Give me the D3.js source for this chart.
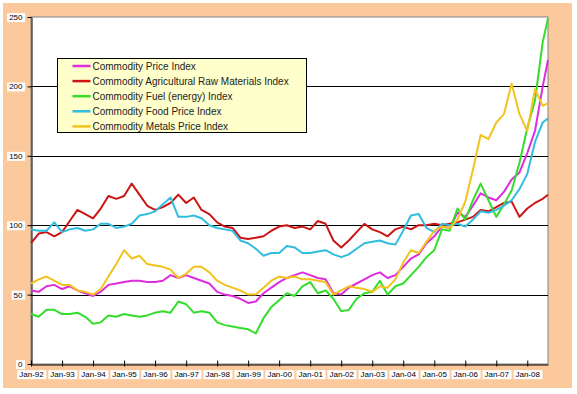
<!DOCTYPE html>
<html>
<head>
<meta charset="utf-8">
<script src="https://cdn.jsdelivr.net/npm/d3@7"></script>
<style>
    body { margin: 0; background: #fff; }
    svg { display: block; font-family: Arial, "Liberation Sans", sans-serif; }
</style>
</head>
<body>
<div id="chart"></div>
<script>
// quarterly readings, Jan-92 .. Sep-08
const months = [
    "1992-01", "1992-04", "1992-07", "1992-10", "1993-01", "1993-04", "1993-07", "1993-10",
    "1994-01", "1994-04", "1994-07", "1994-10", "1995-01", "1995-04", "1995-07", "1995-10",
    "1996-01", "1996-04", "1996-07", "1996-10", "1997-01", "1997-04", "1997-07", "1997-10",
    "1998-01", "1998-04", "1998-07", "1998-10", "1999-01", "1999-04", "1999-07", "1999-10",
    "2000-01", "2000-04", "2000-07", "2000-10", "2001-01", "2001-04", "2001-07", "2001-10",
    "2002-01", "2002-04", "2002-07", "2002-10", "2003-01", "2003-04", "2003-07", "2003-10",
    "2004-01", "2004-04", "2004-07", "2004-10", "2005-01", "2005-04", "2005-07", "2005-10",
    "2006-01", "2006-04", "2006-07", "2006-10", "2007-01", "2007-04", "2007-07", "2007-10",
    "2008-01", "2008-04", "2008-07", "2008-09"
];

const priceIndex = [
    53, 52, 56, 57, 54, 56, 53, 51, 49, 52, 57, 58, 59, 60, 60, 59,
    59, 60, 64, 62, 64, 62, 60, 58, 52, 50, 49, 47, 44, 45, 51, 55,
    59, 62, 64, 66, 64, 62, 61, 51, 50, 55, 58, 61, 64, 66, 62, 64,
    70, 76, 79, 87, 92, 99, 98, 109, 106, 114, 123, 120, 118, 124, 133, 138,
    152, 168, 200, 219
];
const agriRawIndex = [
    87, 94, 95, 92, 95, 103, 111, 108, 105, 112, 121, 119, 121, 130, 122, 114,
    111, 113, 116, 122, 116, 120, 111, 108, 102, 99, 98, 91, 90, 91, 92, 96,
    99, 100, 98, 99, 97, 103, 101, 89, 84, 89, 95, 101, 97, 95, 92, 97,
    99, 97, 100, 100, 101, 100, 101, 102, 104, 106, 111, 110, 113, 116, 117, 106,
    112, 116, 119, 122
];
const fuelIndex = [
    36, 34, 39, 39, 36, 36, 37, 34, 29, 30, 35, 34, 36, 35, 34, 35,
    37, 38, 37, 45, 43, 37, 38, 37, 30, 28, 27, 26, 25, 22, 33, 41,
    46, 51, 49, 56, 59, 51, 53, 47, 38, 39, 47, 51, 52, 60, 50, 56,
    58, 64, 70, 77, 82, 97, 96, 112, 104, 118, 130, 118, 106, 115, 125, 145,
    170, 190, 232, 249
];
const foodIndex = [
    97, 96, 96, 102, 95, 97, 98, 96, 97, 101, 101, 98, 99, 101, 107, 108,
    110, 115, 120, 106, 106, 107, 105, 100, 98, 97, 96, 89, 87, 83, 78, 80,
    80, 85, 84, 80, 80, 81, 82, 79, 77, 79, 83, 87, 88, 89, 87, 86,
    96, 107, 108, 98, 95, 101, 100, 101, 99, 104, 110, 109, 111, 114, 118, 126,
    137, 160, 174, 177
];
const metalsIndex = [
    58, 61, 63, 60, 57, 57, 53, 52, 50, 54, 63, 72, 82, 76, 78, 72,
    71, 70, 68, 62, 65, 70, 70, 66, 60, 57, 55, 53, 50, 50, 55, 60,
    63, 62, 63, 61, 61, 60, 59, 50, 53, 56, 55, 54, 52, 56, 55, 61,
    73, 82, 80, 88, 96, 99, 98, 104, 117, 140, 165, 162, 174, 180, 202, 180,
    168, 198, 186, 188
];

const seriesNames = [
    "Commodity Price Index",
    "Commodity Agricultural Raw Materials Index",
    "Commodity Fuel (energy) Index",
    "Commodity Food Price Index",
    "Commodity Metals Price Index"
];
const yTicks = [0, 50, 100, 150, 200, 250];
const xTickLabels = ["Jan-92", "Jan-93", "Jan-94", "Jan-95", "Jan-96", "Jan-97", "Jan-98", "Jan-99",
    "Jan-00", "Jan-01", "Jan-02", "Jan-03", "Jan-04", "Jan-05", "Jan-06", "Jan-07", "Jan-08"];

const colors = ["#dd2edd", "#cc1414", "#33dd2a", "#2fbde0", "#f2c31c"];
const allSeries = [priceIndex, agriRawIndex, fuelIndex, foodIndex, metalsIndex];

const W = 577, H = 394;
const plot = { left: 31, right: 548, top: 17, bottom: 364 };

const parse = d3.timeParse("%Y-%m");
const dates = months.map(parse);
const tickDates = xTickLabels.map((d, i) => new Date(1992 + i, 0, 1));

const svg = d3.select("#chart").append("svg")
    .attr("width", W)
    .attr("height", H);

svg.append("rect")
    .attr("x", 3).attr("y", 3)
    .attr("width", 569).attr("height", 385)
    .attr("fill", "#fbc99b");

svg.append("rect")
    .attr("x", plot.left).attr("y", plot.top)
    .attr("width", plot.right - plot.left).attr("height", plot.bottom - plot.top)
    .attr("fill", "#fff")
    .attr("stroke", "#808080");

const x = d3.scaleTime()
    .domain([dates[0], dates[dates.length - 1]])
    .range([plot.left, plot.right]);
const y = d3.scaleLinear()
    .domain([0, 250])
    .range([plot.bottom, plot.top]);

// gridlines
svg.append("g")
    .selectAll("line")
    .data(yTicks.slice(1, 5))
    .join("line")
    .attr("x1", plot.left).attr("x2", plot.right)
    .attr("y1", d => Math.round(y(d)) + 0.5).attr("y2", d => Math.round(y(d)) + 0.5)
    .attr("stroke", "#000");

// y axis
const yAxis = svg.append("g")
    .attr("transform", `translate(${plot.left + 0.5},0)`)
    .call(d3.axisLeft(y).tickValues(yTicks).tickSize(4).tickPadding(5).tickSizeOuter(0));
yAxis.select(".domain").attr("stroke", "#000");
yAxis.selectAll(".tick line").attr("stroke", "#000");
yAxis.selectAll(".tick text").attr("font-size", 8).attr("font-family", "Arial, 'Liberation Sans', sans-serif").attr("fill", "#000");

// x axis
const xAxis = svg.append("g")
    .attr("transform", `translate(0,${plot.bottom + 0.5})`)
    .call(d3.axisBottom(x).tickValues(tickDates).tickFormat((d, i) => xTickLabels[i]).tickSizeOuter(0));
xAxis.select(".domain").attr("stroke", "#000");
xAxis.selectAll(".tick line").attr("stroke", "#000").attr("y1", -4).attr("y2", 2);
xAxis.selectAll(".tick text").attr("font-size", 8).attr("font-family", "Arial, 'Liberation Sans', sans-serif")
    .attr("fill", "#000").attr("y", 7);

// white boxes behind tick labels
svg.selectAll(".tick text").each(function () {
    const b = this.getBBox();
    d3.select(this.parentNode).insert("rect", "text")
        .attr("x", b.x - 2).attr("y", b.y)
        .attr("width", b.width + 4).attr("height", b.height)
        .attr("fill", "#fff");
});

// series
const line = d3.line()
    .x((d, i) => x(dates[i]))
    .y(d => y(d));

svg.append("g")
    .selectAll("path")
    .data(allSeries)
    .join("path")
    .attr("d", line)
    .attr("fill", "none")
    .attr("stroke", (d, i) => colors[i])
    .attr("stroke-width", 2)
    .attr("stroke-linejoin", "round");

// legend
const legend = svg.append("g").attr("transform", "translate(57.5,58.5)");
legend.append("rect")
    .attr("width", 249).attr("height", 74)
    .attr("fill", "#ffffcc")
    .attr("stroke", "#000");
const rows = legend.selectAll("g.row")
    .data(seriesNames)
    .join("g")
    .attr("class", "row")
    .attr("transform", (d, i) => `translate(0,${7.5 + i * 15.1})`);
rows.append("line")
    .attr("x1", 15).attr("x2", 33)
    .attr("stroke", (d, i) => colors[i])
    .attr("stroke-width", 2.5);
rows.append("text")
    .attr("x", 35).attr("y", 3.6)
    .attr("font-size", 10)
    .attr("fill", "#222")
    .text(d => d);
</script>
</body>
</html>
